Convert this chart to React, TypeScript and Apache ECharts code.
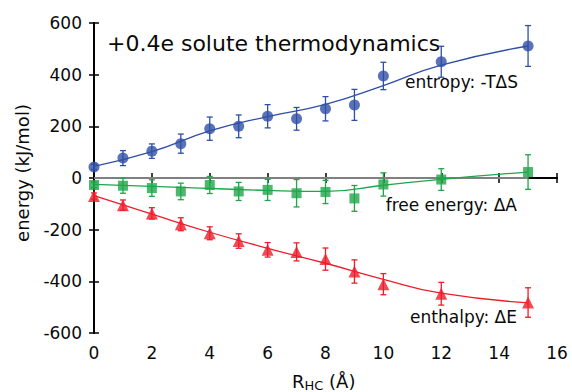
import React, { useEffect, useRef } from "react";
import * as echarts from "echarts";

const xs = [0, 1, 2, 3, 4, 5, 6, 7, 8, 9, 10, 12, 15];
const entropy = [43, 77, 104, 133, 191, 200, 239, 229, 268, 283, 395, 450, 511];
const entropyErr = [10, 29, 28, 37, 45, 44, 45, 44, 47, 60, 53, 60, 79];
const freeEnergy = [-27, -30, -39, -52, -27, -52, -46, -59, -54, -79, -25, -6, 23];
const freeErr = [10, 29, 32, 32, 33, 35, 41, 53, 45, 50, 45, 42, 67];
const enthalpy = [-70, -105, -137, -179, -214, -244, -278, -286, -314, -362, -411, -448, -482];
const enthalpyErr = [12, 20, 22, 25, 25, 28, 28, 35, 43, 45, 41, 44, 57];

const fitX = [0, 2, 4, 6, 8, 10, 12, 15];
const entropyFit = [45, 102, 182, 238, 285, 358, 437, 511];
const enthalpyFit = [-68, -140, -210, -272, -330, -392, -446, -483];
const freeFitX = [0, 3, 6, 8, 10, 12, 15];
const freeFit = [-25, -36, -48, -52, -28, -5, 23];
const zeroX = [0, 15];

const xTicks = { min: 0, max: 16, interval: 2 };
const yTicks = { min: -600, max: 600, interval: 200 };

const BLUE = "#2f4fa6";
const GREEN = "#1ea64a";
const RED = "#ee1d2b";
const FONT = "DejaVu Sans";
const INK = "#0a0a0a";

function errSeries(name: string, vals: number[], errs: number[], color: string) {
  return {
    name,
    type: "custom",
    data: xs.map((x, i) => [x, vals[i], errs[i]]),
    renderItem: (params: any, api: any) => {
      const x = api.value(0);
      const y = api.value(1);
      const e = api.value(2);
      const top = api.coord([x, y + e]);
      const bot = api.coord([x, y - e]);
      const w = 3;
      const st = { stroke: color, lineWidth: 1.3 };
      return {
        type: "group",
        children: [
          { type: "line", shape: { x1: top[0], y1: top[1], x2: bot[0], y2: bot[1] }, style: st },
          { type: "line", shape: { x1: top[0] - w, y1: top[1], x2: top[0] + w, y2: top[1] }, style: st },
          { type: "line", shape: { x1: bot[0] - w, y1: bot[1], x2: bot[0] + w, y2: bot[1] }, style: st },
        ],
      };
    },
    z: 3,
  };
}

export default function App() {
  const ref = useRef<HTMLDivElement>(null);
  useEffect(() => {
    if (!ref.current) return;
    const chart = echarts.init(ref.current, undefined, { renderer: "svg" });
    const axisLine = { show: true, lineStyle: { color: "#000", width: 2 } };
    const axisTick = { show: true, inside: true, length: 5, lineStyle: { color: "#000", width: 1.5 } };
    const label = { fontFamily: FONT, fontSize: 17, color: INK };
    chart.setOption({
      animation: false,
      backgroundColor: "#fff",
      grid: { left: 94, right: 15, top: 23, bottom: 59 },
      xAxis: [
        {
          type: "value", position: "bottom", ...xTicks,
          axisLine, axisTick, splitLine: { show: false },
          axisLabel: { ...label, margin: 11 },
        },
        {
          type: "value", position: "top", ...xTicks,
          axisLine, axisTick, splitLine: { show: false },
          axisLabel: { show: false },
        },
      ],
      yAxis: [
        {
          type: "value", position: "left", ...yTicks,
          axisLine, axisTick, splitLine: { show: false },
          axisLabel: { ...label, margin: 12 },
        },
        {
          type: "value", position: "right", ...yTicks,
          axisLine, axisTick, splitLine: { show: false },
          axisLabel: { show: false },
        },
      ],
      series: [
        {
          name: "zero", type: "line", data: zeroX.map((x) => [x, 0]),
          showSymbol: false, lineStyle: { color: "#808080", width: 2 }, z: 1,
        },
        {
          name: "entropyFit", type: "line", smooth: true, showSymbol: false,
          data: fitX.map((x, i) => [x, entropyFit[i]]),
          lineStyle: { color: BLUE, width: 1.3 }, z: 2,
        },
        {
          name: "freeFit", type: "line", smooth: true, showSymbol: false,
          data: freeFitX.map((x, i) => [x, freeFit[i]]),
          lineStyle: { color: GREEN, width: 1.3 }, z: 2,
        },
        {
          name: "enthalpyFit", type: "line", smooth: true, showSymbol: false,
          data: fitX.map((x, i) => [x, enthalpyFit[i]]),
          lineStyle: { color: RED, width: 1.3 }, z: 2,
        },
        errSeries("entropyErr", entropy, entropyErr, BLUE),
        errSeries("freeErr", freeEnergy, freeErr, GREEN),
        errSeries("enthalpyErr", enthalpy, enthalpyErr, RED),
        {
          name: "entropy", type: "scatter", symbol: "circle", symbolSize: 11,
          data: xs.map((x, i) => [x, entropy[i]]), itemStyle: { color: BLUE }, z: 4,
        },
        {
          name: "free energy", type: "scatter", symbol: "rect", symbolSize: 10,
          data: xs.map((x, i) => [x, freeEnergy[i]]), itemStyle: { color: GREEN }, z: 4,
        },
        {
          name: "enthalpy", type: "scatter", symbol: "triangle", symbolSize: 12,
          data: xs.map((x, i) => [x, enthalpy[i]]), itemStyle: { color: RED }, z: 4,
        },
      ],
      graphic: [
        {
          type: "text", x: 107, y: 43,
          style: { text: "+0.4e solute thermodynamics", font: `22px "${FONT}"`, fill: INK, align: "left", verticalAlign: "middle" },
        },
        {
          type: "text", x: 518, y: 82,
          style: { text: "entropy: -T\u0394S", font: `17px "${FONT}"`, fill: INK, align: "right", verticalAlign: "middle" },
        },
        {
          type: "text", x: 517, y: 205,
          style: { text: "free energy: \u0394A", font: `17px "${FONT}"`, fill: INK, align: "right", verticalAlign: "middle" },
        },
        {
          type: "text", x: 517, y: 317,
          style: { text: "enthalpy: \u0394E", font: `17px "${FONT}"`, fill: INK, align: "right", verticalAlign: "middle" },
        },
        {
          type: "text", x: 22, y: 173, rotation: Math.PI / 2,
          style: { text: "energy (kJ/mol)", font: `18px "${FONT}"`, fill: INK, align: "center", verticalAlign: "middle" },
        },
        {
          type: "text", x: 292, y: 381,
          style: {
            text: "{a|R}{b|HC}{a| (\u00c5)}",
            fill: INK, align: "left", verticalAlign: "middle",
            rich: {
              a: { fontFamily: FONT, fontSize: 18, lineHeight: 22, fill: INK },
              b: { fontFamily: FONT, fontSize: 13, lineHeight: 13, padding: [9, 0, 0, 0], fill: INK },
            },
          },
        },
      ],
    });
    return () => chart.dispose();
  }, []);
  return <div ref={ref} style={{ position: "absolute", left: 0, top: 0, width: 572, height: 392 }} />;
}
